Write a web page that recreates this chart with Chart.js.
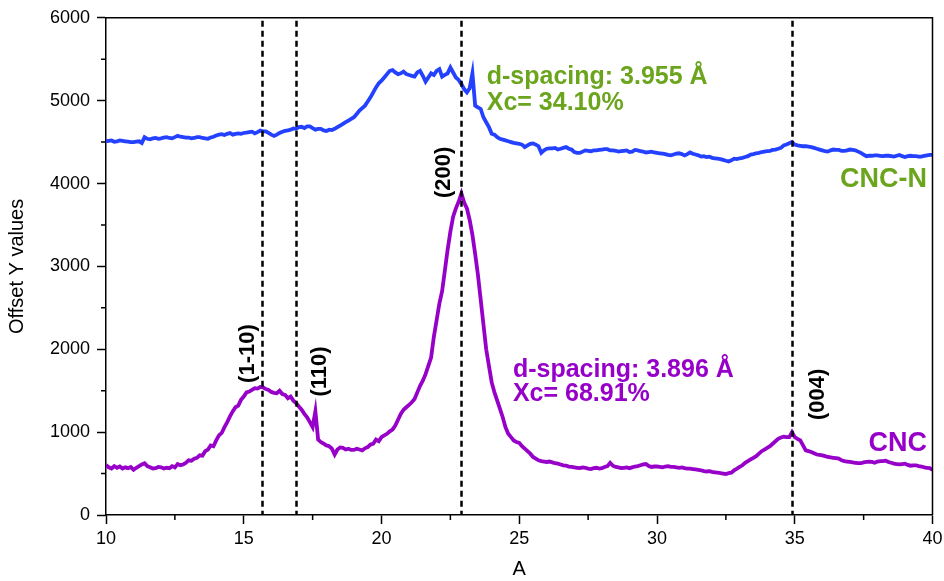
<!DOCTYPE html>
<html>
<head>
<meta charset="utf-8">
<script src="https://cdn.jsdelivr.net/npm/chart.js@4.4.1/dist/chart.umd.min.js"></script>
<style>
  html, body { margin: 0; padding: 0; background: #fff; }
  #wrap { width: 944px; height: 581px; }
</style>
</head>
<body>
<div id="wrap"><canvas id="xrd"></canvas></div>
<script>
// ===================================================================
// data (2-theta, one row = one degree)
var angle = [
  10.0,10.1,10.2,10.3,10.4,10.5,10.6,10.7,10.8,10.9,
  11.0,11.1,11.2,11.3,11.4,11.5,11.6,11.7,11.8,11.9,
  12.0,12.1,12.2,12.3,12.4,12.5,12.6,12.7,12.8,12.9,
  13.0,13.1,13.2,13.3,13.4,13.5,13.6,13.7,13.8,13.9,
  14.0,14.1,14.2,14.3,14.4,14.5,14.6,14.7,14.8,14.9,
  15.0,15.1,15.2,15.3,15.4,15.5,15.6,15.7,15.8,15.9,
  16.0,16.1,16.2,16.3,16.4,16.5,16.6,16.7,16.8,16.9,
  17.0,17.1,17.2,17.3,17.4,17.5,17.6,17.7,17.8,17.9,
  18.0,18.1,18.2,18.3,18.4,18.5,18.6,18.7,18.8,18.9,
  19.0,19.1,19.2,19.3,19.4,19.5,19.6,19.7,19.8,19.9,
  20.0,20.1,20.2,20.3,20.4,20.5,20.6,20.7,20.8,20.9,
  21.0,21.1,21.2,21.3,21.4,21.5,21.6,21.7,21.8,21.9,
  22.0,22.1,22.2,22.3,22.4,22.5,22.6,22.7,22.8,22.9,
  23.0,23.1,23.2,23.3,23.4,23.5,23.6,23.7,23.8,23.9,
  24.0,24.1,24.2,24.3,24.4,24.5,24.6,24.7,24.8,24.9,
  25.0,25.1,25.2,25.3,25.4,25.5,25.6,25.7,25.8,25.9,
  26.0,26.1,26.2,26.3,26.4,26.5,26.6,26.7,26.8,26.9,
  27.0,27.1,27.2,27.3,27.4,27.5,27.6,27.7,27.8,27.9,
  28.0,28.1,28.2,28.3,28.4,28.5,28.6,28.7,28.8,28.9,
  29.0,29.1,29.2,29.3,29.4,29.5,29.6,29.7,29.8,29.9,
  30.0,30.1,30.2,30.3,30.4,30.5,30.6,30.7,30.8,30.9,
  31.0,31.1,31.2,31.3,31.4,31.5,31.6,31.7,31.8,31.9,
  32.0,32.1,32.2,32.3,32.4,32.5,32.6,32.7,32.8,32.9,
  33.0,33.1,33.2,33.3,33.4,33.5,33.6,33.7,33.8,33.9,
  34.0,34.1,34.2,34.3,34.4,34.5,34.6,34.7,34.8,34.9,
  35.0,35.1,35.2,35.3,35.4,35.5,35.6,35.7,35.8,35.9,
  36.0,36.1,36.2,36.3,36.4,36.5,36.6,36.7,36.8,36.9,
  37.0,37.1,37.2,37.3,37.4,37.5,37.6,37.7,37.8,37.9,
  38.0,38.1,38.2,38.3,38.4,38.5,38.6,38.7,38.8,38.9,
  39.0,39.1,39.2,39.3,39.4,39.5,39.6,39.7,39.8,39.9,
  40.0];

// CNC (purple, bottom trace)
var cncValues = [
  604,575,560,590,570,585,560,575,565,580,
  545,570,590,610,625,590,575,560,565,580,
  575,560,570,565,590,575,615,600,610,630,
  660,655,680,690,720,715,770,790,840,830,
  900,960,990,1060,1120,1190,1250,1300,1320,1390,
  1430,1480,1490,1510,1530,1525,1545,1540,1520,1510,
  1485,1475,1470,1500,1460,1450,1410,1430,1380,1350,
  1310,1270,1220,1180,1120,1060,1250,910,880,860,
  840,830,800,730,790,815,810,790,800,785,
  785,800,790,780,805,820,850,860,910,890,
  940,960,980,1010,1030,1080,1150,1220,1270,1300,
  1330,1360,1400,1480,1560,1620,1700,1800,1900,2150,
  2350,2550,2700,2950,3200,3420,3600,3700,3780,3880,
  3770,3700,3560,3380,3150,2900,2600,2300,2000,1800,
  1600,1480,1380,1280,1180,1060,980,940,900,880,
  870,830,800,770,740,700,680,660,650,645,
  640,645,635,625,620,610,600,595,585,580,
  575,570,565,575,570,560,555,565,570,560,
  565,580,590,630,595,580,575,565,570,575,
  565,575,585,590,600,610,615,590,580,585,
  585,580,575,585,590,580,580,575,570,575,
  565,560,560,555,550,545,540,530,525,530,
  520,515,510,505,500,495,505,510,540,560,
  580,600,630,650,670,690,710,740,770,790,
  810,830,860,890,920,935,945,940,940,1000,
  940,920,900,840,780,770,760,745,730,725,
  720,710,700,695,690,685,680,660,650,645,
  640,635,630,625,625,635,640,645,640,630,
  645,650,650,655,640,630,620,615,610,615,
  620,605,595,600,600,590,585,575,570,565,
  545];

// CNC-N (blue, top trace)
var cncnValues = [
  4510,4515,4520,4505,4510,4520,4515,4510,4505,4500,
  4500,4505,4510,4490,4560,4540,4535,4545,4550,4540,
  4545,4555,4560,4550,4545,4560,4575,4565,4560,4555,
  4555,4545,4550,4560,4560,4550,4545,4540,4555,4565,
  4580,4590,4595,4585,4600,4610,4590,4600,4605,4600,
  4610,4615,4620,4625,4605,4620,4640,4630,4630,4610,
  4590,4575,4590,4610,4625,4635,4640,4650,4665,4660,
  4680,4685,4670,4690,4690,4670,4650,4660,4660,4640,
  4635,4650,4645,4660,4680,4700,4720,4740,4760,4780,
  4800,4840,4880,4910,4940,4990,5040,5100,5160,5210,
  5240,5280,5320,5360,5370,5340,5320,5330,5350,5320,
  5310,5300,5290,5340,5360,5300,5230,5280,5330,5310,
  5360,5380,5290,5310,5330,5400,5340,5280,5250,5200,
  5140,5100,5150,5330,4940,4920,4900,4800,4740,4680,
  4600,4590,4560,4540,4530,4520,4510,4500,4490,4485,
  4480,4470,4440,4460,4480,4485,4470,4450,4370,4400,
  4420,4425,4425,4430,4410,4420,4430,4440,4420,4410,
  4380,4370,4370,4385,4400,4395,4390,4400,4400,4405,
  4410,4415,4415,4400,4400,4395,4385,4390,4395,4400,
  4380,4385,4405,4400,4390,4385,4375,4380,4385,4375,
  4370,4365,4360,4355,4345,4340,4350,4360,4365,4355,
  4340,4355,4375,4360,4350,4340,4325,4330,4320,4325,
  4310,4305,4300,4295,4285,4275,4265,4280,4300,4295,
  4305,4310,4320,4330,4350,4355,4365,4370,4380,4385,
  4390,4395,4405,4410,4420,4430,4460,4470,4485,4500,
  4470,4460,4455,4450,4450,4445,4440,4430,4420,4410,
  4400,4390,4385,4400,4410,4405,4405,4395,4395,4400,
  4410,4405,4400,4385,4370,4350,4330,4335,4335,4340,
  4340,4335,4330,4335,4335,4330,4325,4335,4345,4330,
  4320,4330,4335,4330,4330,4325,4325,4335,4340,4345,
  4345];

// peak positions (dashed markers) and axis ticks
var peakLines = [15.65, 16.88, 22.9, 34.9];
var xTicks = [10, 15, 20, 25, 30, 35, 40];
var yTicks = [0, 1000, 2000, 3000, 4000, 5000, 6000];

var BLUE = '#2341ff';
var PURPLE = '#9600c8';
var GREEN = '#6ba51e';
var FONT = '"Liberation Sans", Arial, sans-serif';

function toPoints(xs, ys) {
  return xs.map(function(x, i) { return { x: x, y: ys[i] }; });
}

// annotation texts, placed in data units
var notes = [
  { text: 'd-spacing: 3.955 Å', x: 23.82, y: 5290, color: GREEN, size: 25, align: 'left' },
  { text: 'Xc= 34.10%', x: 23.82, y: 4972, color: GREEN, size: 25, align: 'left' },
  { text: 'CNC-N', x: 39.8, y: 4044, color: GREEN, size: 27, align: 'right' },
  { text: 'd-spacing: 3.896 Å', x: 24.77, y: 1750, color: PURPLE, size: 25, align: 'left' },
  { text: 'Xc= 68.91%', x: 24.77, y: 1456, color: PURPLE, size: 25, align: 'left' },
  { text: 'CNC', x: 39.8, y: 864, color: PURPLE, size: 27, align: 'right' },
  { text: '(1-10)', x: 15.16, y: 1948, color: '#000', size: 22, align: 'center', rot: true },
  { text: '(110)', x: 17.77, y: 1732, color: '#000', size: 22, align: 'center', rot: true },
  { text: '(200)', x: 22.27, y: 4134, color: '#000', size: 22, align: 'center', rot: true },
  { text: '(004)', x: 35.84, y: 1456, color: '#000', size: 22, align: 'center', rot: true }
];

// ===================================================================
// extras: dashed peak lines, frame, minor ticks, labels
var extras = {
  id: 'extras',
  afterDatasetsDraw: function(chart) {
    var ctx = chart.ctx;
    var a = chart.chartArea;
    var xs = chart.scales.x;
    ctx.save();
    ctx.strokeStyle = '#000';
    ctx.lineWidth = 2.5;
    ctx.setLineDash([6, 4]);
    peakLines.forEach(function(p) {
      var px = Math.round(xs.getPixelForValue(p)) + 0.5;
      ctx.beginPath();
      ctx.moveTo(px, a.top + 3);
      ctx.lineTo(px, a.bottom);
      ctx.stroke();
    });
    ctx.restore();
  },
  afterDraw: function(chart) {
    var ctx = chart.ctx;
    var a = chart.chartArea;
    var xs = chart.scales.x;
    var ys = chart.scales.y;
    ctx.save();
    ctx.strokeStyle = '#000';
    ctx.lineWidth = 1.5;
    // top + right edges
    ctx.beginPath();
    ctx.moveTo(a.left, a.top);
    ctx.lineTo(a.right, a.top);
    ctx.lineTo(a.right, a.bottom);
    ctx.stroke();
    // minor ticks
    ctx.beginPath();
    for (var v = 12.5; v < 40; v += 5) {
      var px = xs.getPixelForValue(v);
      ctx.moveTo(px, a.bottom);
      ctx.lineTo(px, a.bottom + 5);
    }
    for (var w = 500; w < 6000; w += 1000) {
      var py = ys.getPixelForValue(w);
      ctx.moveTo(a.left, py);
      ctx.lineTo(a.left - 5, py);
    }
    ctx.stroke();

    // labels
    ctx.textBaseline = 'middle';
    notes.forEach(function(n) {
      var x = xs.getPixelForValue(n.x);
      var y = ys.getPixelForValue(n.y);
      ctx.font = 'bold ' + n.size + 'px ' + FONT;
      ctx.fillStyle = n.color;
      ctx.textAlign = n.align;
      if (n.rot) {
        ctx.save();
        ctx.translate(x, y);
        ctx.rotate(-Math.PI / 2);
        ctx.fillText(n.text, 0, 0);
        ctx.restore();
      } else {
        ctx.fillText(n.text, x, y);
      }
    });
    ctx.restore();
  }
};

// ===================================================================
// chart
var ctx = document.getElementById('xrd').getContext('2d');
var xrdChart = new Chart(ctx, {
  type: 'line',
  data: {
    datasets: [
      {
        label: 'CNC-N',
        data: toPoints(angle, cncnValues),
        borderColor: BLUE,
        borderWidth: 3.8,
        pointRadius: 0,
        tension: 0
      },
      {
        label: 'CNC',
        data: toPoints(angle, cncValues),
        borderColor: PURPLE,
        borderWidth: 3.8,
        pointRadius: 0,
        tension: 0
      }
    ]
  },
  options: {
    responsive: true,
    maintainAspectRatio: false,
    animation: false,
    layout: { padding: { left: 0, top: 16, right: 11.5, bottom: 0 } },
    plugins: {
      legend: { display: false },
      tooltip: { enabled: false }
    },
    scales: {
      x: {
        type: 'linear',
        min: 10,
        max: 40,
        afterFit: function(scale) {
          scale.height = 66;
          // keep the end labels from shrinking the plot
          scale.paddingLeft = 0;
          scale.paddingRight = 0;
        },
        afterBuildTicks: function(scale) {
          scale.ticks = xTicks.map(function(v) { return { value: v }; });
        },
        grid: { drawOnChartArea: false, color: '#000', tickLength: 9, tickWidth: 1.5 },
        border: { color: '#000', width: 1.5 },
        ticks: {
          color: '#000', padding: 4, maxRotation: 0,
          font: { family: FONT, size: 18 },
          callback: function(v) { return String(v); }
        },
        title: {
          display: true,
          text: 'A',
          color: '#000',
          padding: { top: 0, bottom: 0 },
          font: { family: FONT, size: 20 }
        }
      },
      y: {
        min: 0,
        max: 6000,
        afterFit: function(scale) { scale.width = 106; },
        afterBuildTicks: function(scale) {
          scale.ticks = yTicks.map(function(v) { return { value: v }; });
        },
        grid: { drawOnChartArea: false, color: '#000', tickLength: 9, tickWidth: 1.5 },
        border: { color: '#000', width: 1.5 },
        ticks: {
          color: '#000', padding: 7,
          font: { family: FONT, size: 18 },
          callback: function(v) { return String(v); }
        },
        title: {
          display: true,
          text: 'Offset Y values',
          color: '#000',
          padding: { top: 5, bottom: 0 },
          font: { family: FONT, size: 20 }
        }
      }
    }
  },
  plugins: [extras]
});
</script>
</body>
</html>
